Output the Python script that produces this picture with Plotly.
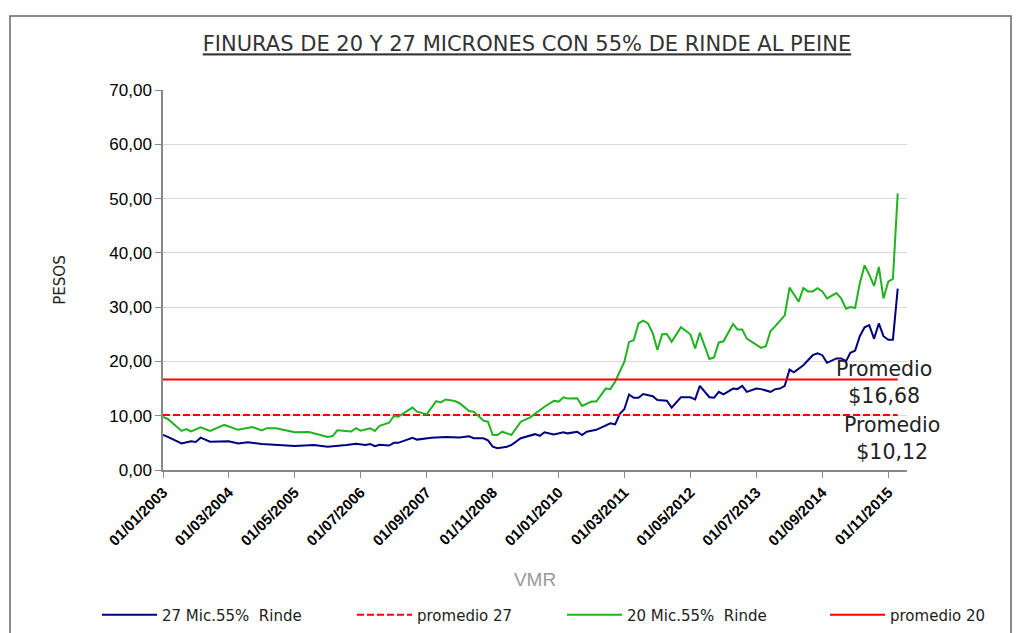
import plotly.graph_objects as go

# ---- data ----
dates_27 = ["2003-01","2003-02","2003-05","2003-07","2003-08","2003-09","2003-11","2004-03","2004-05","2004-07",
            "2004-10","2005-02","2005-05","2005-09","2005-12","2006-04","2006-06","2006-08","2006-09","2006-10",
            "2006-11","2007-01","2007-02","2007-03","2007-06","2007-07","2007-10","2008-01","2008-04","2008-06",
            "2008-07","2008-09","2008-10","2008-11","2008-12","2009-02","2009-03","2009-05","2009-08","2009-09",
            "2009-10","2009-12","2010-02","2010-03","2010-05","2010-06","2010-07","2010-09","2010-11","2010-12",
            "2011-01","2011-02","2011-03","2011-04","2011-05","2011-06","2011-07","2011-09","2011-10","2011-12",
            "2012-01","2012-03","2012-05","2012-06","2012-07","2012-09","2012-10","2012-11","2012-12","2013-02",
            "2013-03","2013-04","2013-05","2013-07","2013-08","2013-10","2013-11","2013-12","2014-01","2014-02",
            "2014-03","2014-05","2014-07","2014-08","2014-09","2014-10","2014-12","2015-01","2015-02","2015-03",
            "2015-04","2015-05","2015-06","2015-07","2015-08","2015-09","2015-10","2015-11","2015-12","2016-01"]
vals_27 = [6.45,6.1,4.9,5.3,5.15,5.95,5.2,5.3,4.9,5.1,
           4.8,4.6,4.4,4.6,4.3,4.6,4.85,4.6,4.8,4.4,
           4.65,4.5,5.0,5.0,5.95,5.6,5.95,6.1,6.0,6.2,
           5.85,5.85,5.45,4.3,4.0,4.3,4.6,5.85,6.6,6.3,
           6.95,6.55,6.95,6.75,7.05,6.45,7.05,7.4,8.3,8.6,
           8.4,10.4,11.2,13.9,13.3,13.3,14.0,13.6,12.9,12.75,
           11.5,13.4,13.4,13.0,15.5,13.4,13.3,14.4,13.95,15.0,
           14.9,15.5,14.4,15.0,14.9,14.4,14.9,15.0,15.5,18.5,
           18.0,19.3,21.15,21.5,21.15,19.75,20.55,20.55,20.05,21.6,
           22.0,24.65,26.3,26.7,24.2,27.0,24.65,24.0,24.0,33.4]

dates_20 = ["2003-01","2003-02","2003-05","2003-06","2003-07","2003-09","2003-11","2003-12","2004-02","2004-05",
            "2004-08","2004-10","2004-11","2005-01","2005-02","2005-05","2005-08","2005-12","2006-01","2006-02",
            "2006-05","2006-06","2006-07","2006-09","2006-10","2006-11","2007-01","2007-02","2007-03","2007-04",
            "2007-06","2007-07","2007-09","2007-11","2007-12","2008-01","2008-03","2008-04","2008-06","2008-07",
            "2008-09","2008-10","2008-11","2008-12","2009-01","2009-03","2009-05","2009-07","2009-10","2009-12",
            "2010-01","2010-02","2010-03","2010-05","2010-06","2010-08","2010-09","2010-11","2010-12","2011-01",
            "2011-03","2011-04","2011-05","2011-06","2011-07","2011-08","2011-09","2011-10","2011-11","2011-12",
            "2012-01","2012-03","2012-05","2012-06","2012-07","2012-09","2012-10","2012-11","2012-12","2013-02",
            "2013-03","2013-04","2013-05","2013-08","2013-09","2013-10","2013-11","2014-01","2014-02","2014-04",
            "2014-05","2014-06","2014-07","2014-08","2014-09","2014-10","2014-12","2015-01","2015-02","2015-03",
            "2015-04","2015-05","2015-06","2015-07","2015-08","2015-09","2015-10","2015-11","2015-12","2016-01"]
vals_20 = [9.8,9.4,7.2,7.55,7.1,7.85,7.2,7.55,8.3,7.4,
           7.9,7.3,7.7,7.7,7.5,6.95,7.0,6.1,6.25,7.3,
           7.1,7.7,7.25,7.7,7.2,8.15,8.7,9.95,9.8,10.4,
           11.5,10.75,10.25,12.7,12.45,13.0,12.7,12.3,10.85,10.75,
           9.1,8.9,6.45,6.45,7.05,6.45,8.9,9.7,11.65,12.75,
           12.6,13.4,13.15,13.2,11.8,12.6,12.6,15.0,14.9,16.3,
           19.9,23.6,23.9,27.0,27.5,27.0,25.2,22.1,25.0,25.05,
           23.6,26.3,25.0,22.4,25.3,20.45,20.75,23.5,23.7,26.9,
           25.9,25.9,24.2,22.5,22.8,25.6,26.5,28.5,33.6,31.0,
           33.5,32.9,32.9,33.5,32.9,31.6,32.6,31.6,29.7,30.0,
           29.85,34.4,37.7,36.0,33.9,37.4,31.6,34.7,35.2,50.95]

promedio_27 = 10.12
promedio_20 = 16.68
promedio_dates = ["2003-01", "2016-01"]

tick_dates = ["2003-01-01","2004-03-01","2005-05-01","2006-07-01","2007-09-01","2008-11-01",
              "2010-01-01","2011-03-01","2012-05-01","2013-07-01","2014-09-01","2015-11-01"]
tick_labels = ["01/01/2003","01/03/2004","01/05/2005","01/07/2006","01/09/2007","01/11/2008",
               "01/01/2010","01/03/2011","01/05/2012","01/07/2013","01/09/2014","01/11/2015"]

names = ["27 Mic.55%\u00a0 Rinde", "promedio 27", "20 Mic.55%\u00a0 Rinde", "promedio 20"]
title_text = "FINURAS DE 20 Y 27 MICRONES CON 55% DE RINDE AL PEINE"

# ---- layout geometry ----
W, H = 1021, 633
L, R, T, B = 163, 1021 - 907, 90, 633 - 470
pw, ph = W - L - R, H - T - B

def px_x(p):
    return (p - L) / pw

def px_y(p):
    return (H - B - p) / ph

NAVY, GREEN, RED = "#000080", "#1fb31f", "#ff0000"

fig = go.Figure()
fig.add_trace(go.Scatter(x=dates_27, y=vals_27, mode="lines", name=names[0],
                         line=dict(color=NAVY, width=2), legend="legend"))
fig.add_trace(go.Scatter(x=promedio_dates, y=[promedio_27] * 2, mode="lines", name=names[1],
                         line=dict(color=RED, width=2, dash="7px,3px"), legend="legend2"))
fig.add_trace(go.Scatter(x=dates_20, y=vals_20, mode="lines", name=names[2],
                         line=dict(color=GREEN, width=2), legend="legend3"))
fig.add_trace(go.Scatter(x=promedio_dates, y=[promedio_20] * 2, mode="lines", name=names[3],
                         line=dict(color=RED, width=2), legend="legend4"))

leg_font = dict(family="DejaVu Sans", size=15, color="#222")
ly = px_y(615)
def leg(xpx):
    return dict(x=px_x(xpx), y=ly, xanchor="left", yanchor="middle", orientation="h",
                font=leg_font, bgcolor="rgba(0,0,0,0)", itemwidth=55)

fig.update_layout(
    width=W, height=H,
    margin=dict(l=L, r=R, t=T, b=B, autoexpand=False),
    paper_bgcolor="white", plot_bgcolor="white",
    separators=", ",
    showlegend=True,
    legend=leg(97), legend2=leg(352), legend3=leg(562), legend4=leg(825),
    title=dict(text="<u>" + title_text + "</u>", x=527 / W, xanchor="center",
               y=1 - 44 / H, yanchor="middle",
               font=dict(family="DejaVu Sans", size=21, color="#333")),
    xaxis=dict(type="date", range=["2003-01-01", "2016-03-01"], automargin=False,
               tickmode="array", tickvals=tick_dates, ticktext=tick_labels,
               tickangle=-45, tickfont=dict(family="Liberation Sans", size=15, color="#000", weight="bold"),
               showline=True, linecolor="#888", linewidth=1.5,
               ticks="outside", ticklen=6, tickcolor="#888",
               showgrid=False, zeroline=False,
               title=dict(text="VMR", font=dict(family="Liberation Sans", size=19, color="#999"),
                          standoff=25)),
    yaxis=dict(range=[0, 70], dtick=10, tickformat=".2f", automargin=False,
               tickfont=dict(family="Liberation Sans", size=17, color="#000"),
               showline=True, linecolor="#888", linewidth=1.5,
               ticks="outside", ticklen=6, tickcolor="#888",
               showgrid=True, gridcolor="#d9d9d9", gridwidth=1, zeroline=False,
               title=dict(text="PESOS", font=dict(family="DejaVu Sans", size=15, color="#222"),
                          standoff=40)),
)

ann_font = dict(family="DejaVu Sans", size=20.5, color="#222")
fig.add_annotation(x=px_x(884), y=px_y(382), xref="paper", yref="paper", xanchor="center", yanchor="middle",
                   text="Promedio<br>$16,68", showarrow=False, font=ann_font, align="center")
fig.add_annotation(x=px_x(892), y=px_y(438), xref="paper", yref="paper", xanchor="center", yanchor="middle",
                   text="Promedio<br>$10,12", showarrow=False, font=ann_font, align="center")

# outer chart border
fig.add_shape(type="rect", xref="paper", yref="paper",
              x0=px_x(10), x1=px_x(1011), y0=px_y(640), y1=px_y(16),
              line=dict(color="#666", width=1.5), fillcolor="rgba(0,0,0,0)", layer="below")

fig.write_html("out.html", config={"displayModeBar": False},
               post_script="document.body.style.margin='0';")
